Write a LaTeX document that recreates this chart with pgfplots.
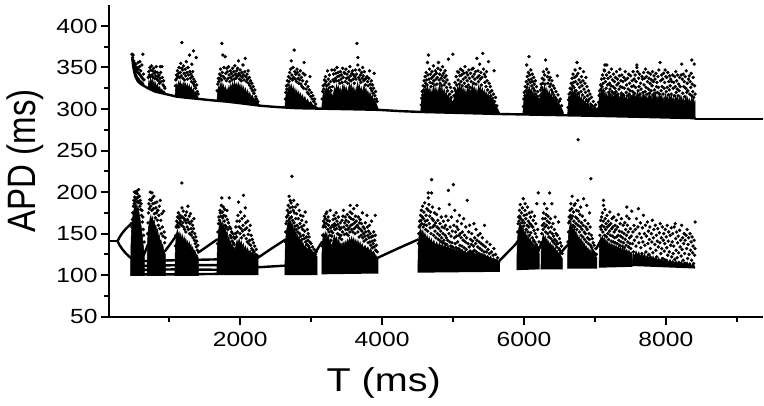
\documentclass[border=0pt]{standalone}
\usepackage{pgfplots}
\pgfplotsset{compat=1.18}
\usepackage{graphicx}
\usepackage{fontspec}
\setmainfont{Liberation Sans}
\newfontfamily\tickfont[FakeStretch=1.2]{Liberation Sans}
\newfontfamily\labfont[FakeStretch=1.2]{Liberation Sans}
\pgfplotsset{
  dots/.style={only marks, mark=*, mark size=1.5pt, black, forget plot},
  core/.style={fill=black, draw=black, line width=0.6pt, mark=none, forget plot},
  branch/.style={black, line width=2.4pt, line join=round, line cap=round, mark=none, forget plot},
}
\begin{document}
\begin{tikzpicture}
\useasboundingbox (-109pt,-89.3pt) rectangle (655pt,316.7pt);
\begin{axis}[
  width=654pt, height=311.5pt, scale only axis,
  xmin=150, xmax=9370, ymin=50, ymax=425,
  axis lines=left,
  axis line style={line width=2pt, -},
  xtick={2000,4000,6000,8000}, minor xtick={1000,3000,5000,7000,9000},
  ytick={50,100,150,200,250,300,350,400}, minor ytick={75,125,175,225,275,325,375},
  tick align=outside,
  major tick length=8pt, minor tick length=5pt,
  every tick/.style={line width=2pt, black},
  tick label style={font=\tickfont\fontsize{20.5}{20.5}\selectfont},
  xticklabel style={yshift=-4pt},
  /pgf/number format/assume math mode=true,
  /pgf/number format/1000 sep={},
  xlabel={\labfont\fontsize{33}{33}\selectfont T (ms)},
  ylabel={\scalebox{1}[1.2]{\fontsize{33}{33}\selectfont APD (ms)}},
  xlabel style={at={(axis description cs:0.42,-0.212)}, anchor=center},
  ylabel style={at={(axis description cs:-0.128,0.5)}, anchor=center},
]
% ================= upper band =================
\addplot[branch] coordinates {(478,361)(490,352)(505,345)(520,340)(540,336)(560,333)(600,330)(640,328)(700,325)(800,321)(900,319)(1000,317)(1100,315)(1250,313.5)(1430,312)(1600,310.5)(1800,309)(2000,307)(2280,304)(2500,302.5)(2800,301)(3100,300.5)(3400,300)(3700,299.5)(3950,299)(4250,297.5)(4540,296.5)(5000,295.5)(5660,294)(6300,293)(7070,291.7)(7700,290.5)(8414,289)};
\addplot[branch] coordinates {(8414,288)(9370,288)};
\addplot[core] coordinates {(478,364)(486,360)(494,357)(502,352)(512,348)(524,345)(536,342)(548,340)(560,338)(574,337)(588,335)(602,334)(616,333)(630,332)(644,330)(644,328)(600,330)(560,333)(540,336)(520,340)(505,345)(490,352)(478,360)};
\addplot[core] coordinates {(700,325)(712,334)(724,330)(736,337)(748,331)(760,336)(772,329)(784,334)(796,327)(808,332)(820,326)(835,330)(850,324)(865,327)(880,322)(895,324)(910,321)(925,322)(948,319)(948,318)(900,319)(800,321)(700,325)};
\addplot[core] coordinates {(1080,315)(1090,325)(1102,330)(1115,326)(1128,333)(1141,328)(1154,334)(1167,327)(1180,331)(1193,326)(1206,333)(1219,327)(1232,331)(1245,325)(1258,330)(1271,324)(1284,329)(1297,323)(1310,327)(1325,321)(1340,325)(1358,319)(1375,321)(1392,316)(1412,313)(1412,312)(1250,313.5)(1100,315)(1080,315.3)};
\addplot[core] coordinates {(1672,310)(1682,320)(1694,327)(1706,323)(1718,331)(1730,326)(1742,332)(1754,325)(1766,329)(1778,322)(1790,327)(1802,320)(1815,325)(1828,321)(1841,328)(1854,323)(1867,330)(1880,325)(1893,332)(1906,326)(1919,333)(1932,327)(1945,331)(1958,325)(1971,332)(1984,326)(1997,330)(2010,323)(2023,329)(2036,322)(2049,327)(2062,320)(2075,325)(2090,318)(2105,323)(2120,316)(2135,320)(2150,314)(2170,317)(2190,312)(2215,313)(2240,308)(2282,304)(2282,303.5)(2000,307)(1800,309)(1672,310)};
\addplot[core] coordinates {(2630,302)(2640,313)(2652,321)(2664,318)(2676,327)(2688,322)(2700,330)(2712,324)(2724,329)(2736,321)(2748,327)(2760,320)(2772,325)(2785,318)(2798,323)(2811,316)(2824,321)(2837,315)(2850,319)(2865,313)(2880,317)(2895,311)(2912,315)(2930,309)(2950,312)(2970,307)(2995,309)(3020,305)(3050,304)(3088,302)(3088,300.5)(2800,301)(2630,302)};
\addplot[core] coordinates {(3150,301)(3160,312)(3172,320)(3184,316)(3196,325)(3208,320)(3220,327)(3232,321)(3244,326)(3256,318)(3268,322)(3280,315)(3292,319)(3305,313)(3318,320)(3331,326)(3344,321)(3357,329)(3370,323)(3383,328)(3396,321)(3409,326)(3422,319)(3435,324)(3448,330)(3461,323)(3474,328)(3487,321)(3500,326)(3513,319)(3526,324)(3539,331)(3552,325)(3565,330)(3578,322)(3591,327)(3604,320)(3617,325)(3630,319)(3643,326)(3656,332)(3669,324)(3682,329)(3695,321)(3708,326)(3721,319)(3734,325)(3747,329)(3760,321)(3773,325)(3786,318)(3800,322)(3815,316)(3830,320)(3845,313)(3860,317)(3877,311)(3895,313)(3915,307)(3945,300)(3945,299)(3700,299.5)(3400,300)(3150,300.5)};
\addplot[core] coordinates {(4545,297)(4556,309)(4568,318)(4580,314)(4592,324)(4604,319)(4616,327)(4628,321)(4640,328)(4652,320)(4664,325)(4676,318)(4688,324)(4700,317)(4712,322)(4724,328)(4736,321)(4748,326)(4760,319)(4772,325)(4784,318)(4796,323)(4808,329)(4820,322)(4832,327)(4844,320)(4856,325)(4868,318)(4880,323)(4892,316)(4906,321)(4920,314)(4936,318)(4952,311)(4970,314)(4990,308)(5010,311)(5025,318)(5038,324)(5051,320)(5064,327)(5077,322)(5090,329)(5103,323)(5116,328)(5129,320)(5142,326)(5155,319)(5168,324)(5181,317)(5194,322)(5207,328)(5220,321)(5233,326)(5246,319)(5259,324)(5272,330)(5285,322)(5298,327)(5311,320)(5324,325)(5337,318)(5350,323)(5363,329)(5376,322)(5389,327)(5402,320)(5415,325)(5428,318)(5441,323)(5454,316)(5467,321)(5480,315)(5495,319)(5510,313)(5525,317)(5542,311)(5560,313)(5580,308)(5605,304)(5630,300)(5660,295)(5660,294)(5000,295.5)(4545,296.6)};
\addplot[core] coordinates {(5985,295)(5996,307)(6008,317)(6020,313)(6032,323)(6044,318)(6056,326)(6068,320)(6080,327)(6092,319)(6104,324)(6116,317)(6128,322)(6140,315)(6152,319)(6165,313)(6180,316)(6195,310)(6212,309)(6228,313)(6240,321)(6252,317)(6264,326)(6276,320)(6288,328)(6300,321)(6312,326)(6324,318)(6336,323)(6348,316)(6360,321)(6373,314)(6386,319)(6400,312)(6415,316)(6430,310)(6447,313)(6465,307)(6485,309)(6505,304)(6530,301)(6555,296)(6555,293)(6300,293)(5985,294.2)};
\addplot[core] coordinates {(6615,293)(6626,305)(6638,314)(6650,310)(6662,320)(6674,315)(6686,323)(6698,317)(6710,324)(6722,316)(6734,321)(6746,314)(6758,319)(6770,312)(6782,317)(6795,310)(6808,315)(6821,309)(6835,313)(6850,307)(6866,311)(6882,305)(6900,308)(6920,303)(6945,305)(6970,300)(7000,301)(7030,298)(7048,303)(7060,312)(7072,319)(7084,315)(7096,323)(7108,317)(7120,324)(7132,316)(7144,321)(7156,314)(7168,319)(7180,312)(7192,318)(7204,322)(7216,315)(7228,320)(7240,313)(7252,318)(7264,312)(7276,317)(7288,321)(7300,314)(7312,319)(7324,312)(7336,317)(7348,311)(7360,316)(7372,320)(7384,313)(7396,318)(7408,311)(7420,316)(7432,310)(7444,315)(7456,309)(7468,314)(7480,318)(7492,311)(7504,316)(7516,310)(7528,315)(7540,320)(7552,314)(7564,318)(7576,312)(7588,317)(7600,321)(7612,314)(7624,319)(7636,312)(7648,317)(7660,311)(7672,316)(7684,320)(7696,313)(7708,318)(7720,311)(7732,316)(7744,310)(7756,315)(7768,319)(7780,312)(7792,317)(7804,310)(7816,315)(7828,320)(7840,313)(7852,318)(7864,311)(7876,316)(7888,310)(7900,315)(7912,319)(7924,312)(7936,317)(7948,310)(7960,315)(7972,309)(7984,314)(7996,318)(8008,311)(8020,316)(8032,309)(8044,314)(8056,318)(8068,311)(8080,316)(8092,309)(8104,314)(8116,308)(8128,313)(8140,317)(8152,310)(8164,315)(8176,308)(8188,313)(8200,317)(8212,310)(8224,315)(8236,308)(8248,313)(8260,307)(8272,312)(8284,316)(8296,309)(8308,314)(8320,307)(8332,312)(8344,306)(8356,311)(8368,315)(8380,308)(8392,313)(8404,306)(8414,309)(8414,289)(7700,290.5)(7070,291.7)(6615,292.5)};
\addplot[dots] coordinates {
(474,366)(483,362)(490,365)(497,358)(505,356)(512,352)(520,349)(528,354)(535,346)(543,350)(552,344)(561,348)(570,343)(579,351)(588,341)(597,346)(606,339)(614,353)(622,337)(628,366)(636,342)(643,335)(585,357)(560,356)
(704,338)(711,345)(719,341)(727,350)(734,339)(741,347)(749,352)(757,341)(763,346)(771,338)(779,349)(786,343)(794,337)(801,345)(809,340)(816,351)(824,336)(832,344)(839,339)(847,334)(855,341)(862,331)(870,337)(873,351)(879,344)(887,333)(897,351)(903,338)(911,329)(919,334)(928,327)(938,325)
(1177,380)(1285,365)(1341,370)(1380,362)(1318,354)(1177,349)
(1085,328)(1092,335)(1099,341)(1107,337)(1114,346)(1122,339)(1130,343)(1137,350)(1145,338)(1153,344)(1161,355)(1169,340)(1185,347)(1192,337)(1200,352)(1208,343)(1216,335)(1224,348)(1232,340)(1240,357)(1248,344)(1256,336)(1264,350)(1272,341)(1290,345)(1298,337)(1306,342)(1314,333)(1322,339)(1330,345)(1338,331)(1346,336)(1354,328)(1362,333)(1370,325)(1386,329)(1396,321)(1406,318)
(1741,379)(1755,365)(1788,363)(1812,349)(1975,358)(2071,361)(1975,341)
(1676,322)(1684,330)(1691,337)(1699,333)(1707,342)(1715,337)(1723,348)(1731,340)(1739,335)(1747,344)(1763,339)(1771,350)(1779,337)(1796,343)(1804,334)(1820,345)(1828,337)(1836,351)(1844,341)(1852,333)(1860,346)(1868,338)(1876,343)(1884,335)(1892,349)(1900,340)(1908,345)(1916,336)(1924,352)(1932,342)(1940,337)(1948,346)(1956,339)(1964,349)(1983,343)(1991,336)(1999,347)(2007,340)(2015,334)(2023,344)(2031,338)(2039,353)(2047,341)(2055,335)(2063,345)(2080,339)(2088,333)(2096,342)(2104,336)(2112,346)(2120,331)(2128,338)(2136,328)(2145,334)(2154,325)(2163,331)(2173,322)(2183,327)(2194,319)(2206,323)(2219,315)(2233,312)(2250,309)
(2761,371)(2719,358)(2901,356)(2807,344)(2913,341)(2983,339)
(2636,312)(2643,320)(2650,328)(2657,324)(2665,334)(2673,329)(2681,339)(2689,333)(2697,344)(2705,337)(2713,348)(2728,341)(2736,335)(2744,350)(2752,338)(2768,345)(2776,336)(2784,342)(2792,333)(2800,348)(2815,337)(2823,331)(2831,341)(2839,335)(2847,346)(2855,330)(2863,338)(2871,327)(2879,334)(2887,343)(2895,325)(2920,330)(2929,324)(2938,333)(2947,320)(2956,327)(2965,318)(2974,323)(2993,315)(3003,320)(3014,312)(3025,316)(3037,309)(3050,312)(3064,306)
(3231,346)(3292,347)(3466,344)(3575,343)(3645,379)(3659,362)(3659,353)(3786,339)(3823,346)(3889,343)
(3155,312)(3162,321)(3170,328)(3178,324)(3186,335)(3194,330)(3202,339)(3210,333)(3218,328)(3240,336)(3248,330)(3256,341)(3264,326)(3272,333)(3280,322)(3300,327)(3308,335)(3316,342)(3324,333)(3332,347)(3340,337)(3348,343)(3356,334)(3364,350)(3372,339)(3380,344)(3388,334)(3396,340)(3404,331)(3412,345)(3420,336)(3428,341)(3436,332)(3444,349)(3452,338)(3474,343)(3482,333)(3490,348)(3498,337)(3506,342)(3514,331)(3522,338)(3530,345)(3538,335)(3546,351)(3554,340)(3562,334)(3584,346)(3592,336)(3600,341)(3608,331)(3616,339)(3624,347)(3632,336)(3640,342)(3670,338)(3678,347)(3686,335)(3694,341)(3702,332)(3710,344)(3718,337)(3726,350)(3734,340)(3742,334)(3750,345)(3758,336)(3766,329)(3774,337)(3796,333)(3804,328)(3812,337)(3832,330)(3840,325)(3848,334)(3856,322)(3864,329)(3872,319)(3880,325)(3898,316)(3908,321)(3918,312)(3930,309)
(4654,365)(4640,356)(4795,356)(4935,360)(4998,366)(5063,345)(5266,348)(5336,361)(5420,367)(5500,357)(5430,348)(5579,346)
(4551,305)(4558,313)(4565,321)(4572,317)(4579,328)(4586,323)(4593,334)(4600,327)(4607,339)(4614,331)(4621,344)(4628,335)(4635,329)(4647,341)(4661,336)(4668,348)(4675,332)(4682,342)(4689,327)(4696,337)(4703,345)(4710,331)(4717,339)(4724,352)(4731,334)(4738,341)(4745,329)(4752,346)(4759,336)(4766,343)(4773,330)(4780,338)(4787,349)(4804,335)(4811,342)(4818,331)(4825,347)(4832,337)(4839,328)(4846,340)(4853,351)(4860,334)(4867,343)(4874,329)(4881,338)(4888,346)(4895,332)(4902,340)(4909,326)(4916,335)(4923,322)(4945,330)(4955,318)(4965,326)(4975,314)(4985,321)(5012,316)(5020,325)(5028,332)(5036,322)(5044,339)(5052,329)(5072,335)(5080,344)(5088,330)(5096,340)(5104,348)(5112,333)(5120,341)(5128,328)(5136,346)(5144,336)(5152,343)(5160,331)(5168,351)(5176,338)(5184,327)(5192,344)(5200,334)(5208,341)(5216,329)(5224,347)(5232,337)(5240,326)(5248,343)(5256,333)(5276,339)(5284,349)(5292,331)(5300,342)(5308,336)(5316,345)(5324,330)(5344,338)(5352,346)(5360,333)(5368,340)(5376,354)(5384,336)(5392,344)(5400,329)(5408,338)(5440,342)(5448,332)(5456,339)(5464,327)(5472,345)(5480,334)(5488,323)(5510,331)(5518,320)(5526,327)(5534,316)(5546,322)(5558,313)(5570,318)(5585,309)(5600,314)(5618,304)
(6071,363)(6039,353)(6306,359)(6320,348)(6471,340)
(5991,303)(5998,312)(6005,320)(6012,316)(6019,327)(6026,322)(6033,333)(6040,326)(6047,339)(6054,330)(6061,344)(6068,335)(6082,341)(6089,332)(6096,347)(6103,336)(6110,328)(6117,342)(6124,333)(6131,325)(6138,338)(6145,330)(6152,322)(6160,334)(6168,318)(6176,327)(6185,315)(6194,321)(6204,312)(6216,311)(6226,316)(6234,323)(6242,330)(6250,326)(6258,337)(6266,331)(6274,345)(6282,335)(6290,341)(6298,330)(6330,339)(6338,331)(6346,344)(6354,335)(6362,327)(6370,338)(6378,330)(6386,323)(6394,334)(6402,320)(6410,328)(6420,317)(6430,325)(6440,314)(6452,321)(6464,311)(6480,317)(6495,309)(6512,312)(6530,304)
(7142,353)(7170,353)(7130,347)(7427,345)(7592,353)(7592,350)(7663,339)(7920,356)(7990,347)(8000,339)(8225,354)(8215,341)(8366,359)(8400,354)(8320,336)(8084,333)(6764,263)
(6622,302)(6629,311)(6636,318)(6643,314)(6650,325)(6657,320)(6664,331)(6671,324)(6678,337)(6685,328)(6692,342)(6699,332)(6706,326)(6713,338)(6720,347)(6727,333)(6734,322)(6741,340)(6748,356)(6755,330)(6762,343)(6769,319)(6776,335)(6783,326)(6790,349)(6797,332)(6804,321)(6811,339)(6818,328)(6825,317)(6832,334)(6839,345)(6846,324)(6853,314)(6860,331)(6867,320)(6874,338)(6881,311)(6888,327)(6895,316)(6902,309)(6910,322)(6920,312)(6930,318)(6940,306)(6952,314)(6964,304)(6978,309)(6992,302)(7010,305)(7030,300)
(7052,308)(7059,316)(7066,322)(7073,318)(7080,329)(7087,324)(7094,336)(7101,327)(7108,341)(7115,331)(7122,322)(7129,337)(7136,346)(7150,333)(7157,325)(7164,341)(7178,329)(7185,337)(7192,320)(7199,344)(7206,331)(7213,324)(7220,339)(7227,328)(7234,348)(7241,321)(7248,335)(7255,327)(7262,342)(7269,319)(7276,333)(7283,325)(7290,338)(7297,321)(7304,345)(7311,329)(7318,336)(7325,318)(7332,331)(7339,324)(7346,340)(7353,348)(7360,327)(7367,334)(7374,319)(7381,341)(7388,326)(7395,333)(7402,317)(7409,338)(7416,325)(7434,335)(7441,320)(7448,329)(7455,316)(7462,337)(7469,324)(7476,342)(7483,318)(7490,331)(7497,322)(7504,340)(7511,315)(7518,327)(7525,334)(7532,321)(7539,345)(7546,328)(7553,336)(7560,319)(7567,341)(7574,326)(7581,333)(7602,345)(7609,322)(7616,337)(7623,327)(7630,342)(7637,318)(7644,331)(7651,324)(7672,336)(7679,320)(7686,344)(7693,329)(7700,337)(7707,321)(7714,348)(7721,326)(7728,339)(7735,318)(7742,333)(7749,344)(7756,324)(7763,337)(7770,319)(7777,331)(7784,342)(7791,322)(7798,335)(7805,328)(7812,345)(7819,317)(7826,333)(7833,340)(7840,323)(7847,336)(7854,319)(7861,343)(7868,327)(7875,332)(7882,320)(7889,339)(7896,326)(7903,347)(7910,318)(7927,334)(7934,322)(7941,341)(7948,327)(7955,336)(7962,318)(7969,343)(7976,325)(7983,332)(8006,321)(8013,338)(8020,326)(8027,344)(8034,317)(8041,333)(8048,323)(8055,340)(8062,328)(8069,336)(8076,318)(8097,341)(8104,325)(8111,332)(8118,316)(8125,339)(8132,327)(8139,345)(8146,320)(8153,334)(8160,324)(8167,341)(8174,316)(8181,330)(8188,322)(8195,338)(8202,327)(8232,336)(8239,319)(8246,342)(8253,327)(8260,333)(8267,315)(8274,339)(8281,325)(8288,346)(8295,320)(8302,331)(8309,322)(8330,340)(8337,318)(8344,333)(8351,326)(8358,343)(8365,316)(8372,330)(8379,321)(8386,338)(8393,314)(8407,328)(8412,318)
};
% ================= lower band =================
\addplot[branch] coordinates {(150,141)(270,141)};
\addplot[branch] coordinates {(270,141)(300,146)(340,151)(390,156)(440,160)(470,163)};
\addplot[branch] coordinates {(270,141)(300,136)(340,131)(390,126)(440,122)(470,120)};
\addplot[branch] coordinates {(630,122)(700,137)};
\addplot[branch] coordinates {(940,129)(1010,137)(1085,146)};
\addplot[branch] coordinates {(1405,127)(1540,135)(1675,143)};
\addplot[branch] coordinates {(2250,121)(2440,132)(2640,143)};
\addplot[branch] coordinates {(3057,127)(3152,140)};
\addplot[branch] coordinates {(3940,121)(4220,132)(4510,143)};
\addplot[branch] coordinates {(5650,117)(5800,130)(5950,143)};
\addplot[branch] coordinates {(6200,128)(6250,140)};
\addplot[branch] coordinates {(6510,126)(6590,134)(6675,141)};
\addplot[branch] coordinates {(7020,132)(7090,143)};
\addplot[branch] coordinates {(640,117)(1100,118)(1680,119)};
\addplot[branch] coordinates {(470,111)(1100,112)(1680,112)(2250,109.5)(2640,111.5)};
\addplot[branch] coordinates {(470,106)(1100,107)(1680,106.5)};
\addplot[branch] coordinates {(470,101)(1100,101)(1680,101.5)};
\addplot[core] coordinates {(455,99)(458,130)(465,150)(475,162)(485,170)(495,176)(505,180)(515,183)(525,186)(535,182)(545,185)(555,178)(565,181)(575,174)(585,170)(595,163)(605,158)(615,150)(625,142)(640,130)(648,120)(648,99)};
\addplot[core] coordinates {(688,99)(690,130)(698,148)(708,158)(718,162)(728,168)(740,172)(752,165)(764,170)(776,163)(788,166)(800,158)(812,160)(824,152)(836,155)(848,146)(860,148)(872,140)(884,142)(896,135)(908,137)(920,130)(932,129)(945,124)(945,99)};
\addplot[core] coordinates {(1080,99)(1083,125)(1092,140)(1102,150)(1114,155)(1126,148)(1138,152)(1150,145)(1162,150)(1174,142)(1186,148)(1198,140)(1210,146)(1222,140)(1234,144)(1246,137)(1258,141)(1270,135)(1282,140)(1294,134)(1306,137)(1318,131)(1330,134)(1345,128)(1360,130)(1378,125)(1395,124)(1410,120)(1410,99)};
\addplot[core] coordinates {(1672,100)(1675,125)(1685,142)(1697,155)(1709,162)(1721,166)(1733,160)(1745,165)(1757,158)(1769,162)(1781,154)(1793,157)(1805,149)(1817,152)(1829,144)(1841,146)(1853,139)(1865,141)(1877,135)(1889,137)(1901,132)(1913,134)(1925,130)(1940,136)(1955,142)(1970,138)(1985,144)(2000,137)(2015,141)(2030,134)(2045,138)(2060,131)(2075,135)(2090,129)(2105,133)(2120,127)(2140,130)(2160,126)(2180,128)(2200,124)(2225,125)(2252,120)(2252,100)};
\addplot[core] coordinates {(2630,100)(2633,128)(2643,145)(2655,155)(2667,160)(2679,165)(2691,170)(2703,162)(2715,166)(2727,158)(2739,162)(2751,154)(2763,157)(2775,150)(2787,153)(2799,146)(2811,149)(2823,143)(2835,146)(2847,140)(2859,143)(2871,137)(2883,140)(2900,134)(2920,136)(2940,131)(2960,133)(2980,128)(3000,130)(3020,126)(3045,127)(3065,124)(3085,122)(3085,100)};
\addplot[core] coordinates {(3150,101)(3152,125)(3162,142)(3174,150)(3186,146)(3198,152)(3210,147)(3222,151)(3234,143)(3246,147)(3258,140)(3270,143)(3285,134)(3300,138)(3315,144)(3330,148)(3345,142)(3360,146)(3375,139)(3390,143)(3405,136)(3420,139)(3435,134)(3450,140)(3465,136)(3480,141)(3495,137)(3510,143)(3525,139)(3540,145)(3555,140)(3570,146)(3585,141)(3600,145)(3615,139)(3630,143)(3645,137)(3660,142)(3675,136)(3690,140)(3705,134)(3720,138)(3740,132)(3760,136)(3780,131)(3800,134)(3820,129)(3840,132)(3860,127)(3880,129)(3900,125)(3920,123)(3942,120)(3942,102)};
\addplot[core] coordinates {(4505,103)(4508,128)(4518,145)(4530,153)(4545,156)(4560,150)(4575,154)(4590,147)(4605,151)(4620,144)(4635,148)(4650,142)(4665,146)(4680,140)(4695,144)(4710,138)(4730,142)(4750,136)(4770,140)(4790,135)(4810,139)(4830,134)(4850,138)(4870,133)(4890,137)(4910,132)(4930,136)(4950,131)(4970,135)(4990,130)(5010,134)(5030,129)(5050,133)(5070,128)(5090,132)(5110,127)(5130,131)(5150,126)(5170,130)(5190,125)(5210,129)(5230,126)(5250,130)(5270,125)(5290,129)(5310,124)(5330,128)(5350,123)(5370,127)(5390,123)(5410,126)(5430,122)(5450,125)(5470,121)(5490,124)(5510,120)(5530,123)(5550,119)(5570,121)(5590,118)(5620,119)(5655,115)(5655,104)};
\addplot[core] coordinates {(5900,106)(5903,130)(5912,146)(5924,155)(5936,160)(5948,163)(5960,157)(5972,160)(5984,153)(5996,156)(6008,149)(6020,153)(6032,146)(6044,149)(6056,143)(6068,147)(6080,140)(6092,144)(6104,138)(6116,141)(6128,135)(6140,139)(6152,133)(6164,136)(6176,131)(6188,133)(6200,129)(6215,126)(6215,107)};
\addplot[core] coordinates {(6240,107)(6243,128)(6252,140)(6264,146)(6276,149)(6288,143)(6300,147)(6312,141)(6324,144)(6336,138)(6348,141)(6360,136)(6372,139)(6384,134)(6396,137)(6408,132)(6420,135)(6432,130)(6444,133)(6456,128)(6470,130)(6485,126)(6500,127)(6520,123)(6542,120)(6542,107)};
\addplot[core] coordinates {(6615,108)(6618,130)(6627,146)(6639,156)(6651,161)(6663,164)(6675,157)(6687,160)(6699,153)(6711,156)(6723,150)(6735,153)(6747,146)(6759,149)(6771,143)(6783,146)(6795,141)(6807,144)(6819,138)(6831,141)(6843,136)(6855,138)(6867,133)(6879,135)(6891,131)(6903,133)(6915,129)(6930,131)(6945,127)(6960,129)(6975,125)(6990,127)(7010,123)(7028,121)(7028,108)};
\addplot[core] coordinates {(7060,109)(7063,128)(7072,140)(7084,146)(7096,143)(7108,147)(7120,142)(7132,145)(7144,140)(7156,143)(7168,138)(7180,141)(7195,136)(7210,139)(7225,135)(7240,138)(7255,134)(7270,137)(7285,133)(7300,136)(7315,132)(7330,135)(7345,131)(7360,134)(7375,130)(7390,133)(7405,129)(7420,132)(7435,128)(7450,131)(7465,127)(7480,130)(7495,126)(7510,128)(7525,125)(7525,110)};
\addplot[core] coordinates {(7525,111)(7540,127)(7560,123)(7580,129)(7600,124)(7620,128)(7640,122)(7660,127)(7680,121)(7700,126)(7720,120)(7740,125)(7760,120)(7780,124)(7800,119)(7820,123)(7840,118)(7860,122)(7880,118)(7900,121)(7920,117)(7940,121)(7960,116)(7980,120)(8000,116)(8020,119)(8040,115)(8060,119)(8080,115)(8100,118)(8120,114)(8140,118)(8160,114)(8180,117)(8200,113)(8220,117)(8240,113)(8260,116)(8280,112)(8300,116)(8320,112)(8340,115)(8360,111)(8380,114)(8410,110)(8410,108)};
\addplot[dots] coordinates {
(567,203)(591,190)(472,158)(479,167)(486,175)(493,183)(499,190)(506,186)(512,194)(519,189)(524,199)(531,192)(537,201)(543,193)(549,198)(555,189)(561,194)(573,187)(579,195)(585,183)(597,179)(603,186)(609,172)(615,178)(621,164)(627,170)(633,155)(639,148)(645,140)(508,200)(545,188)
(732,200)(746,190)(756,199)(873,190)(896,174)(920,177)
(694,150)(700,163)(706,175)(712,186)(718,180)(724,191)(738,183)(752,178)(762,193)(768,186)(776,180)(782,195)(790,174)(797,187)(804,169)(811,181)(818,175)(825,188)(832,166)(839,178)(846,160)(853,172)(860,183)(867,156)(880,166)(887,150)(903,158)(910,147)(927,152)(934,139)(941,145)
(1178,211)(1178,181)(1165,169)
(1086,135)(1092,148)(1098,158)(1104,165)(1110,160)(1116,170)(1122,163)(1128,175)(1134,158)(1140,168)(1146,162)(1152,172)(1158,165)(1171,160)(1185,170)(1191,163)(1197,177)(1203,158)(1209,168)(1215,155)(1221,166)(1227,172)(1233,152)(1239,163)(1245,176)(1251,158)(1257,167)(1263,183)(1269,155)(1275,164)(1281,171)(1287,150)(1293,162)(1299,174)(1305,156)(1311,148)(1317,165)(1323,152)(1329,160)(1335,145)(1341,156)(1347,168)(1353,142)(1359,150)(1366,138)(1373,146)(1380,134)(1388,141)(1396,130)(1404,136)
(1741,193)(1845,193)(2046,196)(1976,188)(2071,181)(1813,178)(1720,175)
(1679,138)(1686,152)(1693,162)(1700,170)(1707,166)(1714,178)(1727,171)(1734,184)(1747,176)(1754,169)(1761,182)(1768,172)(1775,165)(1782,179)(1789,160)(1796,171)(1803,158)(1820,167)(1827,155)(1834,163)(1852,158)(1859,148)(1866,156)(1873,145)(1880,152)(1887,141)(1894,150)(1901,139)(1908,146)(1915,137)(1922,144)(1932,150)(1940,158)(1947,146)(1954,165)(1961,152)(1968,172)(1983,158)(1990,165)(1997,150)(2004,176)(2011,156)(2018,145)(2025,168)(2032,153)(2039,160)(2053,148)(2060,171)(2067,155)(2078,163)(2085,144)(2092,157)(2099,140)(2106,165)(2113,149)(2120,138)(2127,154)(2134,142)(2141,160)(2148,136)(2155,148)(2162,132)(2170,143)(2178,130)(2186,139)(2195,128)(2204,135)(2214,125)(2225,131)(2238,124)
(2729,219)(2704,190)(2916,176)
(2635,140)(2641,152)(2647,162)(2653,170)(2659,165)(2665,178)(2671,172)(2677,184)(2683,175)(2689,195)(2695,168)(2701,181)(2711,176)(2717,187)(2723,170)(2735,182)(2741,166)(2747,178)(2753,190)(2759,163)(2765,175)(2771,159)(2777,182)(2783,168)(2789,155)(2795,174)(2801,160)(2807,185)(2813,152)(2819,168)(2825,157)(2831,178)(2837,150)(2843,162)(2849,172)(2855,147)(2861,158)(2867,166)(2873,143)(2879,155)(2885,171)(2891,148)(2897,160)(2903,144)(2909,153)(2922,140)(2928,164)(2934,146)(2940,137)(2946,155)(2952,142)(2958,150)(2964,135)(2970,146)(2976,133)(2982,140)(2990,130)(2998,138)(3008,128)(3018,134)(3030,126)(3042,131)(3056,125)(3070,128)
(3221,176)(3268,178)(3456,178)(3480,170)(3550,184)(3645,184)(3550,176)(3786,172)(3904,172)(3692,167)(3904,148)
(3156,135)(3162,148)(3168,158)(3174,165)(3180,160)(3186,171)(3192,163)(3198,168)(3204,158)(3210,174)(3216,162)(3228,166)(3234,155)(3240,170)(3246,160)(3252,152)(3258,165)(3264,148)(3274,157)(3280,142)(3286,153)(3292,147)(3298,160)(3304,151)(3310,167)(3316,158)(3322,172)(3328,162)(3334,155)(3340,168)(3346,160)(3352,175)(3358,156)(3364,165)(3370,150)(3376,161)(3382,170)(3388,149)(3394,158)(3400,145)(3406,155)(3412,163)(3418,148)(3424,157)(3430,143)(3436,166)(3442,152)(3448,171)(3462,158)(3468,149)(3474,163)(3486,155)(3492,166)(3498,150)(3504,160)(3510,173)(3516,155)(3522,148)(3528,164)(3534,157)(3540,170)(3546,152)(3558,160)(3564,168)(3570,155)(3576,174)(3582,161)(3588,152)(3594,167)(3600,180)(3606,156)(3612,163)(3618,150)(3624,171)(3630,158)(3636,165)(3652,160)(3658,152)(3664,170)(3670,157)(3676,146)(3682,163)(3698,155)(3704,148)(3710,162)(3716,153)(3722,175)(3728,145)(3734,158)(3740,150)(3746,141)(3752,156)(3758,147)(3764,163)(3770,152)(3776,143)(3792,158)(3798,148)(3804,139)(3810,153)(3816,145)(3822,160)(3828,140)(3834,150)(3840,136)(3846,146)(3852,165)(3858,141)(3864,133)(3870,147)(3876,138)(3882,152)(3888,134)(3896,142)(3910,130)(3920,136)(3932,128)
(4698,215)(4651,199)(4698,199)(4651,193)(4935,202)(5005,209)(4651,178)(4768,173)(4900,171)(5053,158)(5200,190)
(4512,138)(4518,150)(4524,158)(4530,165)(4536,160)(4542,172)(4548,166)(4554,178)(4560,162)(4566,170)(4572,183)(4578,158)(4584,168)(4590,176)(4596,161)(4602,187)(4608,165)(4614,155)(4620,172)(4626,160)(4632,180)(4638,166)(4644,153)(4660,185)(4666,162)(4672,171)(4678,157)(4684,176)(4690,150)(4704,168)(4710,182)(4716,158)(4722,166)(4728,148)(4734,160)(4740,175)(4746,153)(4752,163)(4758,145)(4774,158)(4780,150)(4786,166)(4792,143)(4798,156)(4804,180)(4810,148)(4816,162)(4822,141)(4828,153)(4834,170)(4840,145)(4846,158)(4852,139)(4858,150)(4864,165)(4870,142)(4876,157)(4882,138)(4888,148)(4894,160)(4906,145)(4912,137)(4918,155)(4924,142)(4930,166)(4942,150)(4948,185)(4954,140)(4960,158)(4966,135)(4972,147)(4978,170)(4984,139)(4990,153)(4996,134)(5012,160)(5018,145)(5024,178)(5030,138)(5036,152)(5042,133)(5048,147)(5060,165)(5066,140)(5072,155)(5078,132)(5084,148)(5090,172)(5096,136)(5102,150)(5108,130)(5114,145)(5120,162)(5126,135)(5132,152)(5138,128)(5144,142)(5150,168)(5156,133)(5162,148)(5168,127)(5174,140)(5180,158)(5186,131)(5192,145)(5210,138)(5216,126)(5222,152)(5228,134)(5234,160)(5240,129)(5246,143)(5252,125)(5258,137)(5264,150)(5270,128)(5276,141)(5282,124)(5288,135)(5294,162)(5300,130)(5306,145)(5312,123)(5318,138)(5324,155)(5330,128)(5336,142)(5342,122)(5348,134)(5354,148)(5360,126)(5366,140)(5372,121)(5378,132)(5384,150)(5390,125)(5396,138)(5402,120)(5408,130)(5414,145)(5420,124)(5426,136)(5432,119)(5438,128)(5444,160)(5450,123)(5456,134)(5462,118)(5470,128)(5478,140)(5486,121)(5494,131)(5502,118)(5512,126)(5522,137)(5532,119)(5542,128)(5552,117)(5564,124)(5576,132)(5588,118)(5600,125)(5614,116)(5628,121)(5642,115)
(6201,199)(6362,199)(6017,186)(6181,186)(6111,176)(6393,186)(6322,180)(6487,164)
(5906,140)(5912,152)(5918,162)(5924,170)(5930,165)(5936,178)(5942,171)(5948,185)(5954,168)(5966,175)(5972,163)(5978,181)(5984,166)(5990,192)(5996,159)(6002,172)(6008,163)(6014,178)(6026,168)(6032,155)(6038,173)(6044,160)(6050,182)(6056,152)(6062,165)(6068,158)(6074,175)(6080,148)(6086,162)(6092,170)(6098,151)(6104,160)(6118,145)(6124,158)(6130,166)(6136,142)(6142,154)(6148,171)(6154,140)(6160,150)(6166,162)(6172,137)(6178,146)(6188,134)(6194,155)(6206,132)(6212,140)
(6246,138)(6252,150)(6258,160)(6264,168)(6270,155)(6276,175)(6282,162)(6288,186)(6294,158)(6300,168)(6306,152)(6312,173)(6318,160)(6328,165)(6334,150)(6340,171)(6346,157)(6352,146)(6358,163)(6368,152)(6374,168)(6380,144)(6386,158)(6398,150)(6404,141)(6410,162)(6416,147)(6422,139)(6428,155)(6434,143)(6440,170)(6446,137)(6452,150)(6458,141)(6464,134)(6470,148)(6476,138)(6494,132)(6500,144)(6506,130)(6512,139)(6520,128)(6530,135)(6538,126)
(6943,216)(6722,186)(6886,184)(6925,175)(6769,177)
(6620,140)(6626,152)(6632,163)(6638,170)(6644,165)(6650,178)(6656,172)(6662,186)(6668,168)(6674,180)(6680,195)(6686,171)(6692,160)(6698,176)(6704,165)(6710,184)(6716,158)(6728,170)(6734,162)(6740,178)(6746,155)(6752,168)(6758,190)(6764,160)(6776,165)(6782,152)(6788,173)(6794,158)(6800,182)(6806,148)(6812,163)(6818,155)(6824,171)(6830,146)(6836,160)(6842,192)(6848,152)(6854,143)(6860,166)(6866,150)(6872,158)(6878,140)(6892,155)(6898,145)(6904,162)(6910,138)(6916,150)(6922,143)(6932,158)(6938,136)(6950,148)(6956,133)(6962,144)(6968,130)(6974,139)(6982,128)(6990,136)(7000,126)(7012,132)(7022,125)
(7121,190)(7121,184)(7140,179)(7450,182)(7520,177)(7450,171)
(7064,135)(7070,148)(7076,158)(7082,166)(7088,155)(7094,170)(7100,160)(7106,175)(7112,152)(7118,165)(7130,158)(7136,148)(7146,168)(7152,155)(7158,162)(7164,146)(7170,172)(7176,158)(7182,150)(7188,165)(7194,143)(7200,160)(7206,153)(7212,176)(7218,148)(7224,162)(7230,141)(7236,156)(7242,168)(7248,147)(7254,158)(7260,140)(7266,170)(7272,152)(7278,145)(7284,160)(7290,139)(7296,155)(7302,166)(7308,146)(7314,138)(7320,158)(7326,148)(7332,173)(7338,142)(7344,153)(7350,136)(7356,162)(7362,147)(7368,140)(7374,168)(7380,152)(7386,135)(7392,145)(7398,160)(7404,139)(7410,150)(7416,133)(7422,163)(7428,143)(7434,155)(7440,136)(7446,148)(7458,160)(7464,140)(7470,152)(7476,134)(7482,168)(7488,145)(7494,138)(7500,156)(7506,132)(7512,147)
(7614,180)(8132,162)(8414,164)
(7530,138)(7537,152)(7544,128)(7551,160)(7558,142)(7565,120)(7572,155)(7579,135)(7586,168)(7593,146)(7600,124)(7607,158)(7621,139)(7628,150)(7635,118)(7642,163)(7649,133)(7656,145)(7663,126)(7670,157)(7677,140)(7684,172)(7691,122)(7698,150)(7705,136)(7712,160)(7719,128)(7726,147)(7733,117)(7740,164)(7747,138)(7754,153)(7761,125)(7768,143)(7775,158)(7782,132)(7789,121)(7796,150)(7803,140)(7810,166)(7817,127)(7824,145)(7831,155)(7838,119)(7845,137)(7852,160)(7859,130)(7866,148)(7873,122)(7880,141)(7887,156)(7894,134)(7901,117)(7908,151)(7915,139)(7922,162)(7929,126)(7936,145)(7943,132)(7950,158)(7957,120)(7964,142)(7971,150)(7978,129)(7985,138)(7992,155)(7999,118)(8006,146)(8013,133)(8020,160)(8027,124)(8034,141)(8041,152)(8048,128)(8055,116)(8062,148)(8069,136)(8076,157)(8083,122)(8090,140)(8097,150)(8104,126)(8111,135)(8118,158)(8125,119)(8139,144)(8146,130)(8153,152)(8160,121)(8167,139)(8174,147)(8181,127)(8188,115)(8195,154)(8202,134)(8209,142)(8216,123)(8223,160)(8230,131)(8237,145)(8244,118)(8251,138)(8258,150)(8265,126)(8272,142)(8279,114)(8286,148)(8293,132)(8300,155)(8307,120)(8314,137)(8321,145)(8328,125)(8335,113)(8342,150)(8349,130)(8356,140)(8363,118)(8370,146)(8377,127)(8384,135)(8391,114)(8398,142)(8405,124)(8411,132)
};
\end{axis}
\end{tikzpicture}
\end{document}
